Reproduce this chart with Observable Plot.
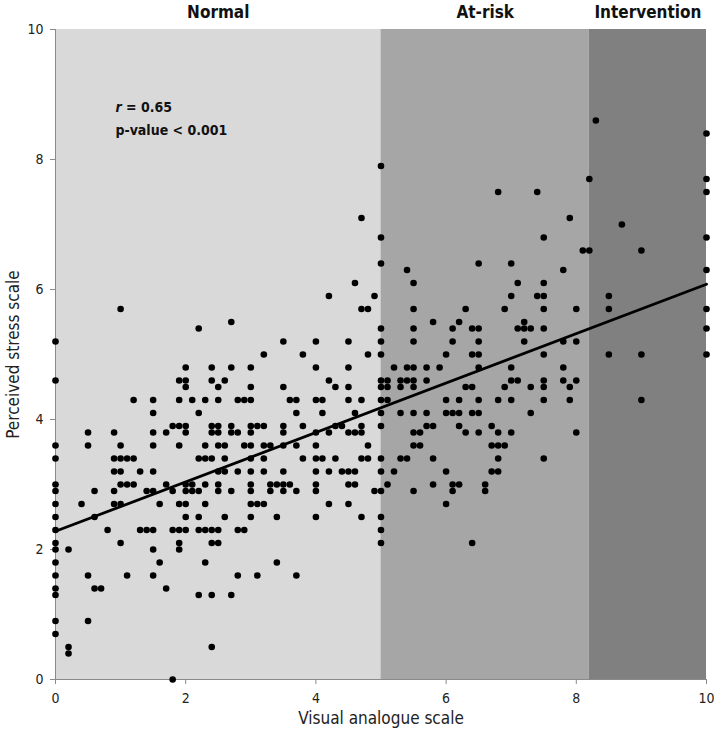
<!DOCTYPE html>
<html>
<head>
<meta charset="utf-8">
<script src="https://cdn.jsdelivr.net/npm/d3@7"></script>
<script src="https://cdn.jsdelivr.net/npm/@observablehq/plot@0.6"></script>
<style>
  html, body { margin: 0; padding: 0; background: #fff; }
  #chart svg { display: block; }
</style>
</head>
<body>
<div id="chart"></div>
<script>
// ---- Data ----
const bandNames = ["Normal", "At-risk", "Intervention"];
const bandStarts = [0, 5, 8.2];
const bandEnds = [5, 8.2, 10];

const xTicks = [0, 2, 4, 6, 8, 10];
const yTicks = [0, 2, 4, 6, 8, 10];

// Visual analogue scale values (columns) and the perceived stress values at each
const vasColumns = [
  0, 0.2, 0.4, 0.5, 0.6, 0.7, 0.8, 0.9, 1.0, 1.1, 1.2, 1.3, 1.4, 1.5, 1.6, 1.7, 1.8, 1.9,
  2.0, 2.1, 2.2, 2.3, 2.4, 2.5, 2.6, 2.7, 2.8, 2.9, 3.0, 3.1, 3.2, 3.3, 3.4, 3.5, 3.6, 3.7, 3.8,
  4.0, 4.1, 4.2, 4.3, 4.4, 4.5, 4.6, 4.7, 4.8, 4.9, 5.0, 5.1,
  5.2, 5.3, 5.4, 5.5, 5.6, 5.7, 5.8, 5.9, 6.0, 6.1, 6.2, 6.3, 6.4, 6.5, 6.6, 6.7, 6.8, 6.9,
  7.0, 7.1, 7.2, 7.3, 7.4, 7.5, 7.8, 7.9, 8.0, 8.1, 8.2, 8.3, 8.5, 8.7, 9.0, 10
];
const pssColumns = [
  [5.2, 4.6, 3.6, 3.4, 3.0, 2.9, 2.7, 2.5, 2.3, 2.1, 2.0, 1.8, 1.6, 1.4, 1.3, 0.9, 0.7],
  [2.0, 0.5, 0.4],
  [2.7],
  [3.8, 3.6, 1.6, 0.9],
  [2.9, 2.5, 1.4],
  [1.4],
  [2.3],
  [3.8, 3.4, 3.2, 2.9, 2.7],
  [5.7, 3.6, 3.4, 3.2, 3.0, 2.7, 2.1],
  [3.4, 3.0, 1.6],
  [4.3, 3.4, 3.0],
  [3.2, 2.3],
  [2.9, 2.3],
  [4.3, 4.1, 3.8, 3.6, 3.2, 2.9, 2.3, 2.0, 1.6],
  [2.7, 1.8],
  [3.8, 3.0, 1.4],
  [3.9, 2.9, 2.3, 0],
  [4.6, 4.3, 3.9, 3.6, 2.7, 2.3, 2.1, 2.0],
  [4.8, 4.6, 4.5, 3.9, 3.8, 3.0, 2.9, 2.7, 2.5, 2.3],
  [4.3, 3.0, 2.9],
  [5.4, 4.1, 3.4, 2.9, 2.5, 2.3, 1.3],
  [4.3, 3.6, 3.4, 3.0, 2.7, 2.3, 1.8],
  [4.8, 4.6, 3.9, 3.8, 3.4, 2.3, 2.1, 1.3, 0.5],
  [4.5, 4.3, 3.9, 3.8, 3.6, 3.2, 3.0, 2.9, 2.3, 2.1],
  [4.6, 3.6, 3.4, 3.2, 2.5],
  [5.5, 4.8, 3.9, 3.8, 2.9, 1.3],
  [4.3, 3.8, 3.2, 2.3, 1.6],
  [4.3, 3.6, 2.3],
  [4.8, 4.5, 4.3, 3.9, 3.8, 3.6, 3.4, 3.2, 3.0, 2.9, 2.7, 2.5],
  [3.9, 2.7, 1.6],
  [5.0, 3.9, 3.6, 3.4, 3.2, 2.7],
  [3.6, 3.0, 2.9],
  [3.0, 2.5, 1.8],
  [5.2, 4.5, 3.9, 3.8, 3.6, 3.2, 3.0, 2.9],
  [4.3, 3.0],
  [4.3, 4.1, 3.6, 2.9, 1.6],
  [5.0, 3.9, 3.4],
  [5.2, 4.8, 4.3, 3.8, 3.6, 3.4, 3.2, 3.0, 2.9, 2.5],
  [4.3, 4.1, 3.4],
  [5.9, 4.6, 3.8, 3.2, 2.7],
  [4.5, 3.9, 3.4],
  [3.9, 3.2],
  [5.2, 4.8, 4.5, 4.3, 3.8, 3.2, 3.0, 2.7],
  [6.1, 4.1, 3.8, 3.2, 3.0],
  [7.1, 5.7, 4.3, 3.9, 3.8, 3.4, 2.5],
  [5.7, 5.0, 3.6, 3.4],
  [5.9, 2.9],
  [7.9, 6.8, 6.4, 5.4, 5.2, 5.0, 4.6, 4.5, 4.3, 4.1, 3.9, 3.4, 3.2, 2.9, 2.5, 2.3, 2.1],
  [4.6, 4.5, 4.3, 3.0],
  [4.8, 3.2],
  [4.6, 4.5, 4.1, 3.4],
  [6.3, 4.8, 4.6, 3.4],
  [6.1, 5.7, 5.4, 5.2, 4.8, 4.6, 4.5, 4.1, 3.8, 3.6, 2.9],
  [3.8, 3.6],
  [4.8, 4.6, 4.1, 3.9],
  [5.5, 3.9, 3.4, 3.0],
  [4.8],
  [5.0, 4.3, 4.1, 3.2, 2.7],
  [5.4, 5.2, 4.1, 3.0, 2.9],
  [5.5, 4.3, 4.1, 3.9, 3.0],
  [5.7, 4.5, 3.8],
  [5.4, 5.0, 4.5, 4.1, 2.1],
  [6.4, 5.4, 5.2, 5.0, 4.8, 4.3, 4.1, 3.8],
  [3.0, 2.9],
  [3.9, 3.6, 3.2],
  [7.5, 4.3, 3.8, 3.6, 3.4, 3.2],
  [5.7, 4.5, 3.6],
  [6.4, 5.9, 4.8, 4.6, 4.3, 3.8],
  [6.1, 5.4, 4.6],
  [5.5, 5.4, 5.2],
  [5.4, 4.5, 4.1],
  [7.5, 5.9],
  [6.8, 6.1, 5.9, 5.7, 5.4, 5.0, 4.6, 4.5, 4.3, 3.4],
  [6.3, 5.2, 4.8, 4.6],
  [7.1, 4.5, 4.3],
  [5.7, 5.2, 4.6, 3.8],
  [6.6],
  [7.7, 6.6],
  [8.6],
  [5.9, 5.7, 5.0],
  [7.0],
  [6.6, 5.0, 4.3],
  [8.4, 7.7, 7.5, 6.8, 6.3, 5.7, 5.4, 5.0]
];

// Fitted regression line (intercept, slope) and stats annotation
const fitIntercept = 2.28;
const fitSlope = 0.38;
const statR = "0.65";
const statP = "p-value < 0.001";

// ---- Build tables ----
const points = vasColumns.flatMap((x, i) => pssColumns[i].map(y => ({vas: x, pss: y})));
const bands = bandNames.map((name, i) => ({name, x1: bandStarts[i], x2: bandEnds[i], mid: (bandStarts[i] + bandEnds[i]) / 2}));
const fit = [0, 10].map(x => ({vas: x, pss: fitIntercept + fitSlope * x}));

const FONT = "'Liberation Sans Narrow', 'Arial Narrow', 'DejaVu Sans Condensed', 'Liberation Sans', sans-serif";
const bandFills = ["#d9d9d9", "#a6a6a6", "#808080"];
const axisGray = "#8a8a8a";

const chart = Plot.plot({
  width: 717,
  height: 738,
  marginLeft: 55,
  marginRight: 11,
  marginTop: 29,
  marginBottom: 59,
  style: {fontFamily: FONT, fontSize: "14px", color: "#222", background: "#fff"},
  x: {domain: [0, 10], label: null},
  y: {domain: [0, 10], label: null},
  marks: [
    Plot.rect(bands, {x1: "x1", x2: "x2", y1: 0, y2: 10, fill: (d, i) => bandFills[i]}),
    Plot.ruleY([0], {stroke: axisGray, strokeWidth: 1}),
    Plot.ruleX([0], {stroke: axisGray, strokeWidth: 1}),
    Plot.axisX({ticks: xTicks, tickSize: 5, tickPadding: 9, stroke: axisGray, fill: "#222", fontSize: 14, label: null}),
    Plot.axisY({ticks: yTicks, tickSize: 5, tickPadding: 7, stroke: axisGray, fill: "#222", fontSize: 14, label: null}),
    Plot.dot(points, {x: "vas", y: "pss", r: 3.3, fill: "black", stroke: null}),
    Plot.line(fit, {x: "vas", y: "pss", stroke: "black", strokeWidth: 2.8}),
    Plot.text(bands, {x: "mid", text: "name", frameAnchor: "top", lineAnchor: "middle", dy: -17, fontWeight: "bold", fontSize: 17, fill: "#111"}),
    Plot.text(["r = " + statR], {x: 0.92, y: 8.8, textAnchor: "start", fontWeight: "bold", fontSize: 14, fill: "#111", className: "stat-r"}),
    Plot.text([statP], {x: 0.92, y: 8.45, textAnchor: "start", fontWeight: "bold", fontSize: 14, fill: "#111"}),
    Plot.text(["Visual analogue scale"], {frameAnchor: "bottom", lineAnchor: "middle", textAnchor: "middle", dy: 39, fontSize: 17, fill: "#222"}),
    Plot.text(["Perceived stress scale"], {frameAnchor: "left", lineAnchor: "middle", textAnchor: "middle", dx: -42, rotate: -90, fontSize: 17, fill: "#222"})
  ]
});

// italic "r" in the correlation note
d3.select(chart).selectAll(".stat-r text").each(function() {
  const t = d3.select(this);
  t.text(null);
  t.append("tspan").attr("font-style", "italic").text("r");
  t.append("tspan").text(" = " + statR);
});

document.getElementById("chart").appendChild(chart);
</script>
</body>
</html>
